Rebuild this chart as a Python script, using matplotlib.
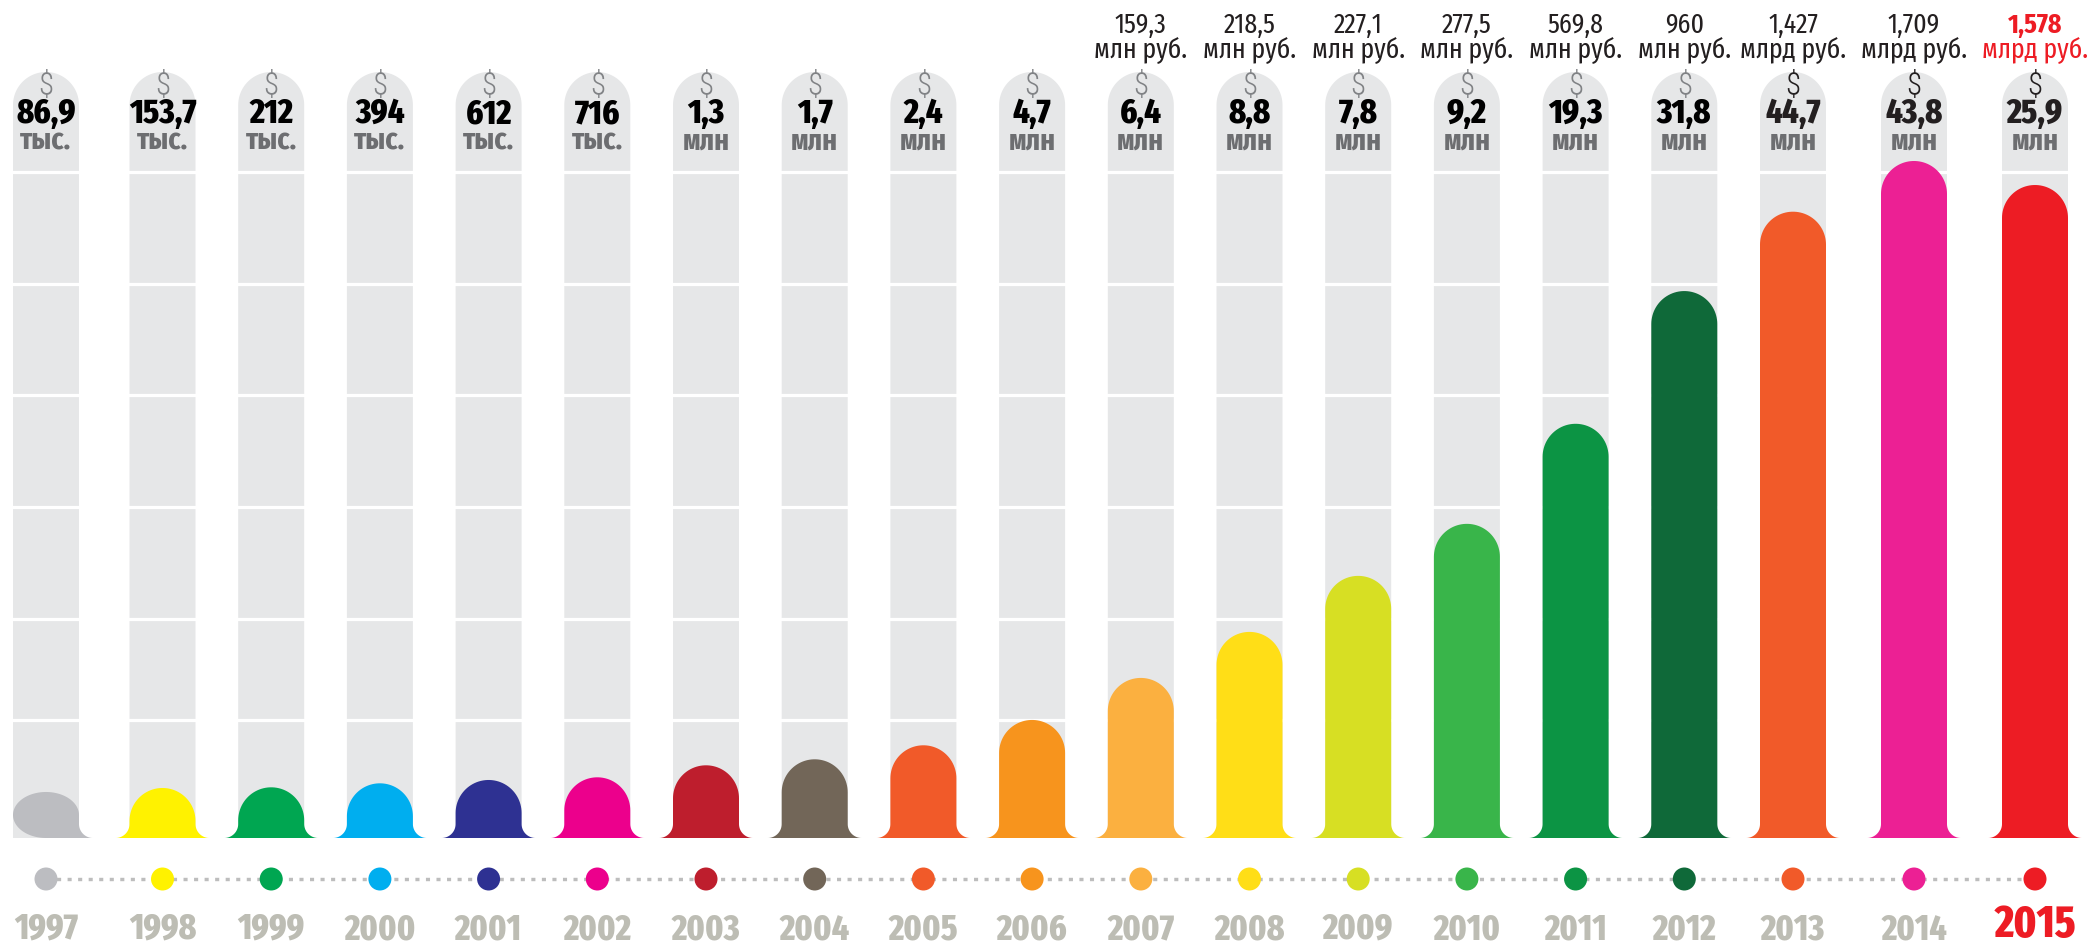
import numpy as np
import matplotlib
matplotlib.use("Agg")
import matplotlib.pyplot as plt
from matplotlib.path import Path
from matplotlib.patches import PathPatch
from matplotlib import font_manager as fm

# ---------------- data ----------------
years = ["1997", "1998", "1999", "2000", "2001", "2002", "2003", "2004", "2005", "2006",
         "2007", "2008", "2009", "2010", "2011", "2012", "2013", "2014", "2015"]
usd_values = ["86,9", "153,7", "212", "394", "612", "716", "1,3", "1,7", "2,4", "4,7",
              "6,4", "8,8", "7,8", "9,2", "19,3", "31,8", "44,7", "43,8", "25,9"]
usd_units = ["тыс."] * 6 + ["млн"] * 13
rub_values = [None] * 10 + ["159,3", "218,5", "227,1", "277,5", "569,8", "960", "1,427", "1,709", "1,578"]
rub_units = [None] * 10 + ["млн руб."] * 6 + ["млрд руб."] * 3
# bar height, % of the gridded column height
bar_heights = [6.9, 7.5, 7.6, 8.2, 8.7, 9.1, 10.9, 11.8, 13.9, 17.7,
               24.0, 30.9, 39.3, 47.1, 62.1, 82.0, 93.9, 101.5, 97.9]
colors = ["#bcbdc1", "#fff200", "#00a651", "#00aeef", "#2e3192", "#ec008c", "#be1e2d",
          "#726658", "#f15a29", "#f7941d", "#fbb040", "#ffde17", "#d7df23", "#39b54a",
          "#0c9444", "#0f6939", "#f15a29", "#ec2094", "#ed1c24"]

# ---------------- layout (pixels) ----------------
W, H = 2089, 944
BASE_PX, TOP_PX = 838, 171
K = (BASE_PX - TOP_PX) / 100.0          # px per height unit
col_left = [13] + [129.5 + 108.7 * i for i in range(16)] + [1881, 2002]
HALF = 33
centers = [l + HALF for l in col_left]
FILLET = 14
CAP_TOP = 72
GRID_PX = [284, 395, 507, 619, 720, 172]


def Y(px):
    return (BASE_PX - px) / K


names = {f.name for f in fm.fontManager.ttflist}
FONT = "DejaVu Sans"
for cand in ["Fira Sans Extra Condensed", "Roboto Condensed", "Fira Sans Condensed",
             "Liberation Sans Narrow", "Roboto"]:
    if cand in names:
        FONT = cand
        break
DFONT = "Roboto Condensed" if "Roboto Condensed" in names else FONT


def pt(px):
    return px / (100 / 72.0)


def arc(cx, cy, rx, ry, a0, a1, n=48):
    t = np.radians(np.linspace(a0, a1, n))
    return np.column_stack([cx + rx * np.cos(t), cy + ry * np.sin(t)])


def closed_patch(pts, color, z):
    pts = np.vstack([pts, pts[:1]])
    codes = [Path.MOVETO] + [Path.LINETO] * (len(pts) - 2) + [Path.CLOSEPOLY]
    return PathPatch(Path(pts, codes), facecolor=color, edgecolor="none", zorder=z)


fig = plt.figure(figsize=(W / 100, H / 100), dpi=100)
ax = fig.add_axes([0, 0, 1, 1])
ax.set_xlim(0, W)
ax.set_ylim(Y(H), Y(0))
ax.axis("off")

# background gray columns with rounded cap
for cx in centers:
    ry = HALF / K
    pts = np.vstack([[[cx - HALF, 0], [cx - HALF, Y(CAP_TOP + HALF)]],
                     arc(cx, Y(CAP_TOP + HALF), HALF, ry, 180, 0),
                     [[cx + HALF, 0]]])
    ax.add_patch(closed_patch(pts, "#e6e7e8", 1))

for g in GRID_PX:
    ax.axhline(Y(g), color="white", lw=pt(3.2), zorder=2)

# bars
fy = FILLET / K
for i, (cx, h, c) in enumerate(zip(centers, bar_heights, colors)):
    if i == 0:
        ey = 23 / K
        pts = np.vstack([[[cx, 0], [cx + HALF + FILLET, 0]],
                         arc(cx + HALF + FILLET, fy, FILLET, fy, 270, 180),
                         [[cx + HALF, ey]],
                         arc(cx, ey, HALF, h - ey, 0, 180),
                         arc(cx, ey, HALF, ey, 180, 270)])
    else:
        ry = HALF / K
        top_y = max(h - ry, fy)
        pts = np.vstack([[[cx - HALF - FILLET, 0]],
                         arc(cx - HALF - FILLET, fy, FILLET, fy, -90, 0),
                         [[cx - HALF, top_y]],
                         arc(cx, top_y, HALF, h - top_y, 180, 0),
                         [[cx + HALF, fy]],
                         arc(cx + HALF + FILLET, fy, FILLET, fy, 180, 270)])
    ax.add_patch(closed_patch(pts, c, 3))

# timeline
ax.plot(centers, [Y(879)] * len(centers), color="#bdbdbd", lw=pt(3.4),
        ls=(0, (1.2, 1.9)), zorder=4, solid_capstyle="butt")
ax.scatter(centers, [Y(879)] * len(centers), s=pt(23) ** 2, c=colors,
           edgecolors="none", zorder=5)

# texts
for i, cx in enumerate(centers):
    last = i == len(centers) - 1
    dollar_c = "#231f20" if i >= 16 else "#808285"
    ax.text(cx, Y(95), "$", ha="center", va="baseline", family=DFONT,
            fontsize=pt(31), fontweight="light", color=dollar_c, zorder=6)
    ax.text(cx, Y(123), usd_values[i], ha="center", va="baseline", family=FONT,
            fontweight="heavy", fontsize=pt(35),
            color="#000000" if i < 16 else "#231f20", zorder=6)
    ax.text(cx, Y(150), usd_units[i], ha="center", va="baseline", family=FONT,
            fontweight="bold", fontsize=pt(31), color="#6d6e71", zorder=6)
    if rub_values[i] is not None:
        rc = "#ed1c24" if last else "#231f20"
        ax.text(cx, Y(33), rub_values[i], ha="center", va="baseline", family=FONT,
                fontweight="bold" if last else "normal",
                fontsize=pt(28), color=rc, zorder=6)
        ax.text(cx, Y(58), rub_units[i], ha="center", va="baseline", family=FONT,
                fontsize=pt(28), color=rc, zorder=6)
    if last:
        ax.text(cx, Y(937), years[i], ha="center", va="baseline", family=FONT,
                fontweight="heavy", fontsize=pt(45), color="#ed1c24", zorder=6)
    else:
        ax.text(cx, Y(939), years[i], ha="center", va="baseline", family=FONT,
                fontweight="heavy", fontsize=pt(36), color="#bdbdb4", zorder=6)

fig.savefig("out.png", dpi=100, facecolor="white")
